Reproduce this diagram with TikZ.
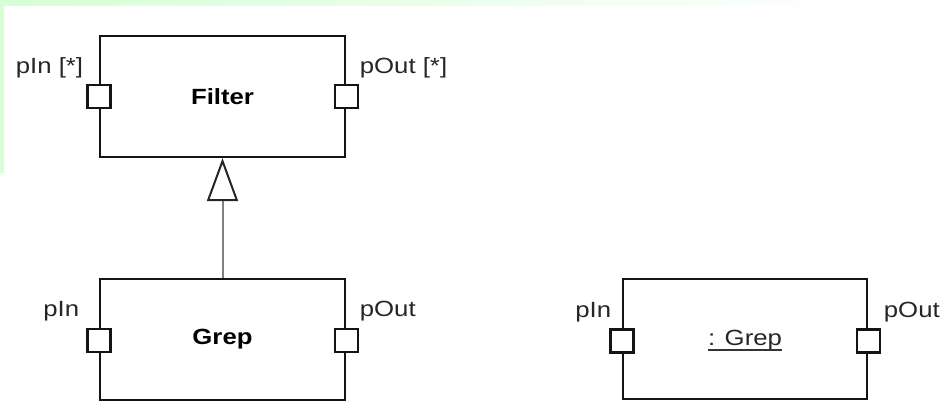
\documentclass[tikz,border=0pt]{standalone}
\usepackage{fontspec}
\setmainfont{Liberation Sans}
\usetikzlibrary{arrows.meta}
\definecolor{mint}{RGB}{214,255,214}
\definecolor{edge}{RGB}{20,20,20}
% slightly widened lettering
\newcommand{\widetext}[1]{\scalebox{1.17}[1]{#1}}
\begin{document}
\begin{tikzpicture}[x=1pt,y=-1pt,
  comp/.style={draw=edge, line width=2.2pt, minimum width=245pt, minimum height=121pt,
               inner sep=0pt, font=\fontsize{22}{26}\selectfont},
  port/.style={draw=edge, fill=white, line width=2.2pt, minimum size=23pt, inner sep=0pt},
  plabel/.style={inner sep=0pt, font=\fontsize{22}{26}\selectfont, text=black!85},
  genline/.style={draw=black!50, line width=2pt}
]
\useasboundingbox (0,0) rectangle (949,402);

% tinted frame edges
\shade[left color=mint, right color=white] (0,0) rectangle (870,5);
\fill[mint] (0,0) rectangle (3.5,173);

% components
\node[comp] (filter) at (222.5,96.5) {\widetext{\bfseries Filter}};
\node[comp] (grep)   at (222.5,339.5) {\widetext{\bfseries Grep}};
\node[comp, minimum width=244pt, minimum height=120pt] (inst) at (745,339) {};
\node[plabel, anchor=base] (instname) at (745,345) {\widetext{: Grep}};
\draw[line width=1.3pt, black!80] ([yshift=-5pt]instname.base west) -- ([yshift=-5pt]instname.base east);

% ports
\node[port] (fin)  at (filter.west) {};
\node[port] (fout) at (filter.east) {};
\node[port] (gin)  at ([yshift=-1pt]grep.west) {};
\node[port] (gout) at ([yshift=-1pt]grep.east) {};
\node[port] (iin)  at ([yshift=-2pt]inst.west) {};
\node[port] (iout) at ([yshift=-2pt]inst.east) {};

% port labels
\node[plabel, anchor=base east] (lfin)  at ([xshift=-3pt,yshift=10pt]fin.north west)  {\widetext{pIn [*]}};
\node[plabel, anchor=base west] (lfout) at ([xshift=1pt,yshift=10pt]fout.north east)  {\widetext{pOut [*]}};
\node[plabel, anchor=base east] (lgin)  at ([xshift=-7pt,yshift=11pt]gin.north west)  {\widetext{pIn}};
\node[plabel, anchor=base west] (lgout) at ([xshift=1pt,yshift=11pt]gout.north east)  {\widetext{pOut}};
\node[plabel, anchor=base east] (liin)  at ([xshift=2pt,yshift=11pt]iin.north west)   {\widetext{pIn}};
\node[plabel, anchor=base west] (liout) at ([xshift=3pt,yshift=11pt]iout.north east)  {\widetext{pOut}};

% generalization
\draw[genline, -{Triangle[open, length=43pt, width=31pt, line width=2pt, color=black!85, fill=white]}]
  (grep.north) -- (filter.south);
\end{tikzpicture}
\end{document}
